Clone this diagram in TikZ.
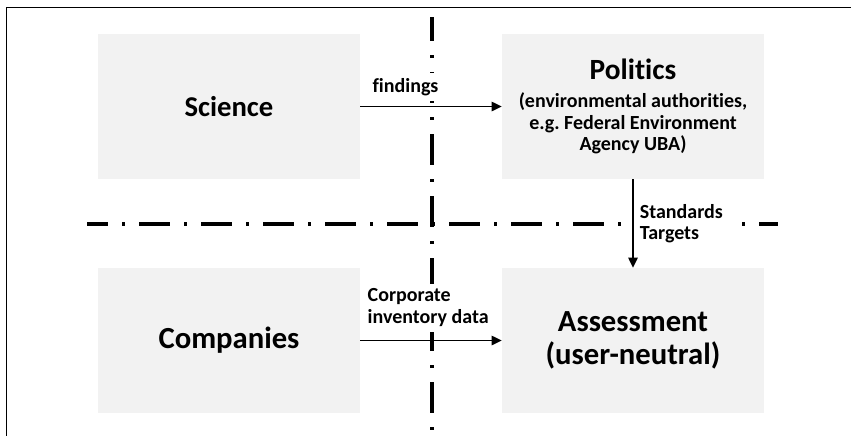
\documentclass[tikz,border=0pt]{standalone}
\usepackage{fontspec}
\setmainfont{Carlito}[Ligatures=NoCommon]
\usepackage{xcolor}
\usepackage{tikz}
\usetikzlibrary{arrows.meta}
\definecolor{boxgray}{HTML}{F2F2F2}
\frenchspacing

\begin{document}
\begin{tikzpicture}[x=0.75pt,y=-0.75pt]
	\tikzstyle{field}=[fill=boxgray,minimum width=196.5pt,minimum height=108.75pt,inner sep=0pt,align=center]
	\tikzstyle{note}=[fill=white,inner xsep=2pt,inner ysep=4pt,align=left,font=\fontsize{15}{16}\selectfont\bfseries]
	\tikzstyle{divider}=[line width=3.4pt,dash pattern=on 23.25pt off 10.5pt on 2.25pt off 10.5pt]
	\useasboundingbox (0,0) rectangle (851,436);
	% frame and the two dash-dot dividers
	\draw[line width=0.75pt] (851,7) -- (6,7) -- (6,436);
	\draw[divider,dash phase=5.25pt] (432,17) -- (432,432);
	\draw[divider,dash phase=7.5pt] (87,224) -- (778,224);
	% the four fields
	\node[field,font=\fontsize{21.5}{24}\selectfont\bfseries](sci) at (229,106.5){Science};
	\node[field,font=\fontsize{15}{16.25}\selectfont\bfseries](pol) at (633,106.5){{\fontsize{22}{24}\selectfont Politics}\\[5pt](environmental authorities,\\e.g. Federal Environment\\Agency UBA)};
	\node[field,font=\fontsize{23}{24.75}\selectfont\bfseries](com) at (229,340.5){Companies};
	\node[field,font=\fontsize{23}{24.75}\selectfont\bfseries](asm) at (633,340.5){Assessment\\(user-neutral)};
	\path[->,>={Triangle[length=7.5pt,width=7pt]},line width=1.1pt]
		(sci) edge node[note,above=3.75pt,pos=0.32]{findings}(pol)
		(pol) edge node[note,right=0.6pt,inner xsep=4pt,inner ysep=2pt]{Standards\\Targets}(asm)
		(com) edge node[note,above=6pt,pos=0.48]{Corporate\\inventory data}(asm);
\end{tikzpicture}
\end{document}
